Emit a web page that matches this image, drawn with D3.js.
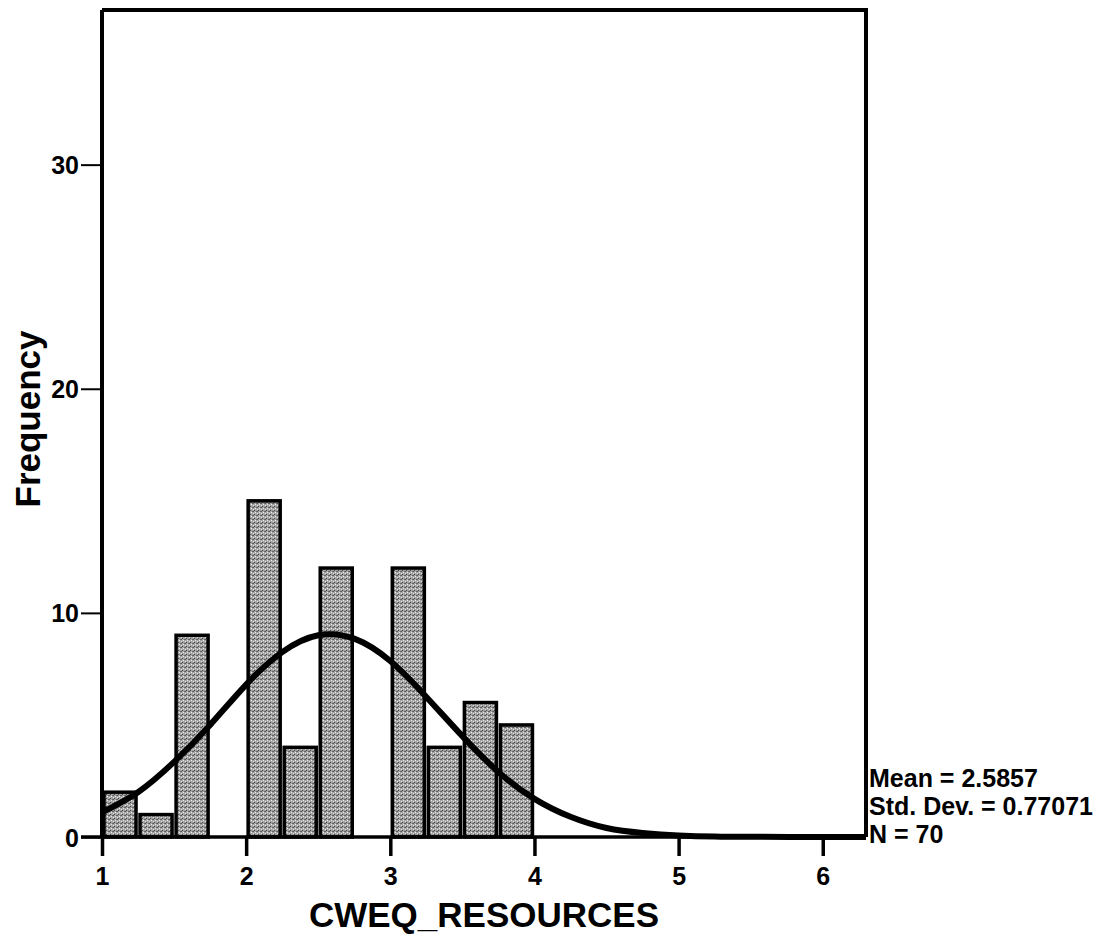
<!DOCTYPE html>
<html>
<head>
<meta charset="utf-8">
<script src="https://cdn.jsdelivr.net/npm/d3@7"></script>
<style>
	body { margin: 0; background: #fff; }
	text { font-family: "Liberation Sans", Arial, sans-serif; font-weight: bold; fill: #000; }
</style>
</head>
<body>
<div id="chart-area"></div>
<script>

// histogram bins (lower edge) and counts
const binStarts = [1.0, 1.25, 1.5, 1.75, 2.0, 2.25, 2.5, 2.75, 3.0, 3.25, 3.5, 3.75];
const binCounts = [2, 1, 9, 0, 15, 4, 12, 0, 12, 4, 6, 5];
const binWidth = 0.25;

// normal curve
const curveX = [1.0, 1.25, 1.5, 1.75, 2.0, 2.25, 2.5, 2.75, 3.0, 3.25, 3.5, 3.75, 4.0, 4.25, 4.5, 4.75, 5.0, 5.25, 5.5, 6.0, 6.3];
const curveY = [1.1, 2.0, 3.35, 5.0, 6.8, 8.25, 9.0, 8.85, 7.85, 6.25, 4.5, 2.9, 1.7, 0.9, 0.4, 0.18, 0.07, 0.02, 0.01, 0, 0];

const xTicks = [1, 2, 3, 4, 5, 6];
const yTicks = [0, 10, 20, 30];
const statLines = ["Mean = 2.5857", "Std. Dev. = 0.77071", "N = 70"];

class Histogram {

	constructor(parentElement) {
		this._parentElement = parentElement;
	}

	initVis() {
		let vis = this;

		vis.margin = {top: 10, right: 242, bottom: 103, left: 102};
		vis.width = 1108 - vis.margin.left - vis.margin.right;
		vis.height = 940 - vis.margin.top - vis.margin.bottom;

		vis.root = d3.select("#" + vis._parentElement).append("svg")
			.attr("width", 1108)
			.attr("height", 940);

		// stipple fill for the bars
		let pat = vis.root.append("defs").append("pattern")
			.attr("id", "stipple")
			.attr("width", 4).attr("height", 4)
			.attr("patternUnits", "userSpaceOnUse");
		pat.append("rect").attr("width", 4).attr("height", 4).attr("fill", "#a4a4a4");
		pat.append("rect").attr("x", 0).attr("y", 0).attr("width", 1).attr("height", 1).attr("fill", "#444");
		pat.append("rect").attr("x", 2).attr("y", 1).attr("width", 1).attr("height", 1).attr("fill", "#666");
		pat.append("rect").attr("x", 1).attr("y", 2).attr("width", 1).attr("height", 1).attr("fill", "#eee");
		pat.append("rect").attr("x", 3).attr("y", 3).attr("width", 1).attr("height", 1).attr("fill", "#dcdcdc");
		pat.append("rect").attr("x", 3).attr("y", 1).attr("width", 1).attr("height", 1).attr("fill", "#5a5a5a");

		vis.svg = vis.root.append("g")
			.attr("transform", "translate(" + vis.margin.left + "," + vis.margin.top + ")");

		vis.x = d3.scaleLinear()
			.domain([1, 6.3])
			.range([0, vis.width]);

		vis.y = d3.scaleLinear()
			.domain([0, 36.9])
			.range([vis.height, 0]);

		// bars
		vis.svg.selectAll(".bar")
			.data(binStarts.map((d, i) => ({x0: d, n: binCounts[i]})).filter(d => d.n > 0))
			.enter().append("rect")
			.attr("class", "bar")
			.attr("x", d => vis.x(d.x0) + 2)
			.attr("width", d => vis.x(d.x0 + binWidth) - vis.x(d.x0) - 4)
			.attr("y", d => vis.y(d.n))
			.attr("height", d => vis.y(0) - vis.y(d.n))
			.attr("fill", "url(#stipple)")
			.attr("stroke", "#000")
			.attr("stroke-width", 3.5);

		// frame (top + right)
		vis.svg.append("path")
			.attr("d", "M0," + vis.y(36.9) + "H" + vis.x(6.3) + "V" + vis.y(0))
			.attr("fill", "none")
			.attr("stroke", "#000")
			.attr("stroke-width", 4);

		// y axis
		vis.yAxis = d3.axisLeft(vis.y)
			.tickValues(yTicks)
			.tickSize(21)
			.tickPadding(2)
			.tickFormat(d3.format("d"));

		let gy = vis.svg.append("g")
			.attr("class", "y-axis")
			.call(vis.yAxis);
		gy.select(".domain").remove();
		gy.selectAll(".tick line").attr("stroke", "#000").attr("stroke-width", 2);
		gy.selectAll(".tick text").style("font-size", "25px").attr("dy", "0.36em");

		gy.append("line")
			.attr("x1", 0).attr("x2", 0)
			.attr("y1", vis.y(36.9)).attr("y2", vis.y(0))
			.attr("stroke", "#000")
			.attr("stroke-width", 4);

		// x axis
		vis.xAxis = d3.axisBottom(vis.x)
			.tickValues(xTicks)
			.tickSize(19)
			.tickPadding(11)
			.tickFormat(d3.format("d"));

		let gx = vis.svg.append("g")
			.attr("class", "x-axis")
			.attr("transform", "translate(0," + vis.height + ")")
			.call(vis.xAxis);
		gx.select(".domain").remove();
		gx.selectAll(".tick line").attr("stroke", "#000").attr("stroke-width", 3.5);
		gx.selectAll(".tick text").style("font-size", "25px");

		gx.append("line")
			.attr("x1", -21).attr("x2", vis.width)
			.attr("y1", 0).attr("y2", 0)
			.attr("stroke", "#000")
			.attr("stroke-width", 3.5);

		// normal curve
		vis.line = d3.line()
			.x((d, i) => vis.x(d))
			.y((d, i) => vis.y(curveY[i]))
			.curve(d3.curveNatural);

		vis.svg.append("path")
			.datum(curveX)
			.attr("d", vis.line)
			.attr("fill", "none")
			.attr("stroke", "#000")
			.attr("stroke-width", 6)
			.attr("stroke-linejoin", "round");

		// axis titles
		vis.svg.append("text")
			.attr("x", vis.width / 2)
			.attr("y", vis.height + 90)
			.attr("text-anchor", "middle")
			.style("font-size", "35px")
			.text("CWEQ_RESOURCES");

		vis.svg.append("text")
			.attr("transform", "translate(" + (40 - vis.margin.left) + "," + (419 - vis.margin.top) + ") rotate(-90)")
			.attr("text-anchor", "middle")
			.style("font-size", "35px")
			.text("Frequency");

		// stats box
		vis.svg.selectAll(".stat")
			.data(statLines)
			.enter().append("text")
			.attr("class", "stat")
			.attr("x", vis.width + 3)
			.attr("y", (d, i) => vis.height - 50 + i * 28)
			.style("font-size", "25px")
			.text(d => d);
	}
}

let chart = new Histogram("chart-area");
chart.initVis();

</script>
</body>
</html>
